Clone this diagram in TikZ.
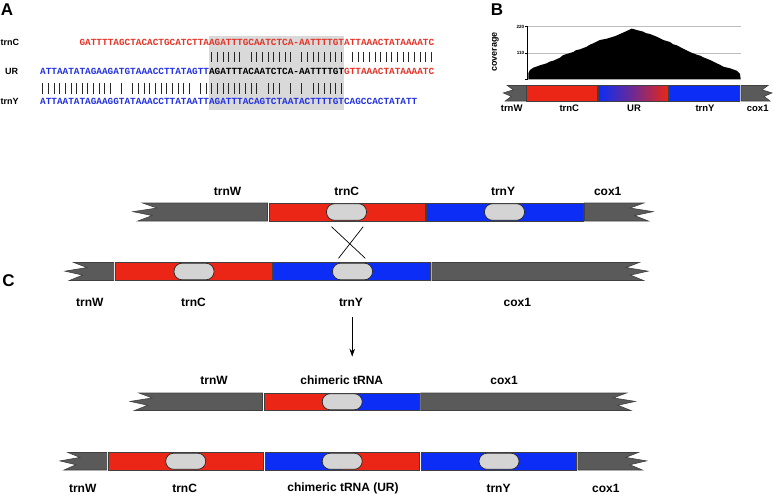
\documentclass[tikz,border=0pt]{standalone}
\usepackage{fontspec}
\setmainfont{Liberation Sans}
\newfontfamily\seqfont{Liberation Mono}
\usetikzlibrary{arrows.meta}
\definecolor{segred}{RGB}{235,38,22}
\definecolor{segblue}{RGB}{12,45,245}
\definecolor{seggray}{RGB}{90,90,90}
\definecolor{ovalgray}{RGB}{212,212,212}
\definecolor{shadegray}{RGB}{217,217,217}
\definecolor{txtred}{RGB}{228,52,40}
\definecolor{txtblue}{RGB}{35,50,225}
\definecolor{gridgray}{RGB}{190,190,190}
\newcommand\myzigL[6]{% tip x, end x, top, h, depth, colour
  \draw[seg,fill=#6] ({#1+0.4*#5},#3) -- ({#1+#5},{#3+0.28*#4}) -- (#1,{#3+0.48*#4}) -- ({#1+0.8*#5},{#3+0.7*#4}) -- ({#1+0.2*#5},{#3+#4}) -- (#2,{#3+#4}) -- (#2,#3) -- cycle;}
\newcommand\myzigR[6]{% start x, tip x, top, h, depth, colour
  \draw[seg,fill=#6] (#1,#3) -- ({#2-0.4*#5},#3) -- ({#2-#5},{#3+0.28*#4}) -- (#2,{#3+0.48*#4}) -- ({#2-0.8*#5},{#3+0.7*#4}) -- ({#2-0.2*#5},{#3+#4}) -- (#1,{#3+#4}) -- cycle;}
\newcommand\mysegbox[5]{\draw[seg,fill=#5] (#1,#3) rectangle (#2,{#3+#4});}
\newcommand\myoval[3]{\draw[ovalst] ({#1-20},{#2+0.7}) rectangle ({#1+20},{#2+#3-0.7});}
\newcommand\mysplit[6]{% x0, xm, x1, top, h, left colour / right colour in #6 and fixed
  \fill[#6] (#1,#4) rectangle (#2,{#4+#5});}
\begin{document}
\begin{tikzpicture}[x=1pt,y=-1pt,
  lbl/.style={font=\bfseries\fontsize{12}{14}\selectfont, inner sep=0},
  lblB/.style={font=\bfseries\fontsize{9.5}{11}\selectfont, inner sep=0},
  seqlbl/.style={font=\bfseries\fontsize{9}{11}\selectfont, inner sep=0, anchor=west},
  panel/.style={font=\bfseries\fontsize{17}{20}\selectfont, inner sep=0},
  seq/.style={font=\seqfont\bfseries\fontsize{9.38}{11}\selectfont, inner sep=0, anchor=west},
  seg/.style={draw=black!75, line width=0.6pt},
  ovalst/.style={fill=ovalgray, draw=black!85, line width=0.7pt, rounded corners=8pt},
  matchbar/.style={line width=0.8pt, black!85},
  gridl/.style={gridgray, line width=0.6pt},
  thinl/.style={black, line width=0.7pt}]
\useasboundingbox (0,0) rectangle (774,495);

% ---------------- Panel A ----------------
\node[panel] (pA) at (7,9.5) {A};
\fill[shadegray] ({40+30*5.63},36) rectangle ({40+54*5.63},110);
\node[seqlbl] (lC) at (0.5,42) {trnC};
\node[seqlbl] (lUR) at (5,71) {UR};
\node[seqlbl] (lY) at (0.5,101) {trnY};
\node[seq, text=txtred] (seqC) at ({40+7*5.63},42) {GATTTTAGCTACACTGCATCTTAAGATTTGCAATCTCA-AATTTTGTATTAAACTATAAAATC};
\node[seq] (seqUR) at (40,71) {{\color{txtblue}ATTAATATAGAAGATGTAAACCTTATAGTT}{\color{black}AGATTTACAATCTCA-AATTTTGT}{\color{txtred}GTTAAACTATAAAATC}};
\node[seq, text=txtblue] (seqY) at (40,101) {ATTAATATAGAAGGTATAAACCTTATAATTAGATTTACAGTCTAATACTTTTGTCAGCCACTATATT};
\foreach \a/\b in {30/35,37/44,46/53,55/69}
  \foreach \i in {\a,...,\b}
    \draw[matchbar] ({40+(\i+0.5)*5.63},52) -- ++(0,10.5);
\foreach \a/\b in {0/12,14/14,16/26,28/38,40/42,44/44,46/46,48/53}
  \foreach \i in {\a,...,\b}
    \draw[matchbar] ({40+(\i+0.5)*5.63},83) -- ++(0,10.5);

% ---------------- Panel B ----------------
\node[panel] (pB) at (497,9.5) {B};
\draw[gridl] (527.5,26.7) -- (741,26.7);
\draw[gridl] (527.5,53.3) -- (741,53.3);
\fill[black] (528.3,79.3) -- (528.3,73.3) -- (530,70) -- (533.3,67.7) -- (536,66.8) -- (540,65.3) -- (546.7,63.3) -- (550,61.5) -- (553.3,60.7) -- (560,57.7) -- (563,55.2) -- (566.7,54) -- (573.3,52) -- (576,50.2) -- (580,49.3) -- (586.7,46.7) -- (590,44.6) -- (593.3,43.3) -- (600,40) -- (606.7,38.7) -- (613.3,36.7) -- (616,35.8) -- (620,34) -- (626.7,31) -- (631.7,28.6) -- (636.7,30) -- (643.3,31.7) -- (646,33.2) -- (650,34) -- (656.7,36.7) -- (663.3,40) -- (670,42) -- (673,44.2) -- (676.7,45.3) -- (683.3,48.7) -- (690,52) -- (696.7,54.7) -- (700,55.6) -- (703.3,57.3) -- (710,60) -- (716.7,63.3) -- (720,64.8) -- (723.3,66.7) -- (730,68.3) -- (736.7,70.7) -- (740,74) -- (740.7,79.3) -- cycle;
\draw[black, line width=0.9pt] (527.5,26.7) -- (527.5,79.3);
\draw[black, line width=0.6pt] (525,26.7) -- (527.5,26.7) (525,53.3) -- (527.5,53.3) (525,79.3) -- (527.5,79.3);
\node[font=\bfseries\fontsize{4.6}{5}\selectfont, inner sep=0, anchor=east] (t220) at (524.5,26.7) {220};
\node[font=\bfseries\fontsize{4.6}{5}\selectfont, inner sep=0, anchor=east] (t110) at (524.5,53.3) {110};
\node[font=\bfseries\fontsize{9}{10}\selectfont, inner sep=0, rotate=90] (cov) at (495.5,52) {coverage};

\myzigL{503.3}{525.7}{85.5}{15.5}{10}{seggray}
\mysegbox{526.7}{597.7}{85.5}{15.5}{segred}
\shade[left color=segblue, right color=segred, middle color=segblue!55!segred] (598.3,85.5) rectangle (668.3,101);
\draw[seg] (598.3,85.5) rectangle (668.3,101);
\mysegbox{669.3}{739.3}{85.5}{15.5}{segblue}
\myzigR{741}{772}{85.5}{15.5}{10}{seggray}
\node[lblB] (bW) at (511.7,108.5) {trnW};
\node[lblB] (bC) at (569.3,108.5) {trnC};
\node[lblB] (bUR) at (634,108.5) {UR};
\node[lblB] (bY) at (705,108.5) {trnY};
\node[lblB] (bX) at (757.7,108.5) {cox1};

% ---------------- Panel C ----------------
\node[panel] (pC) at (8.5,281) {C};
% row 1
\node[lbl] (r1W) at (227.6,191) {trnW};
\node[lbl] (r1C) at (346.8,191) {trnC};
\node[lbl] (r1Y) at (503,191) {trnY};
\node[lbl] (r1X) at (607.7,191) {cox1};
\myzigL{133}{267.5}{203}{18}{24}{seggray}
\mysegbox{269}{425}{203}{18}{segred}
\myoval{346.5}{203}{18}
\mysegbox{426.5}{583}{203}{18}{segblue}
\myoval{504.5}{203}{18}
\myzigR{584.5}{653}{203}{18}{23}{seggray}
% crossing
\coordinate (xa1) at (331.5,226.7); \coordinate (xa2) at (365.3,258.3);
\coordinate (xb1) at (363.2,226.7); \coordinate (xb2) at (338.5,258.3);
\draw[thinl] (xa1) -- (xa2);
\draw[thinl] (xb1) -- (xb2);
% row 2
\myzigL{65}{113.7}{262.5}{18}{22}{seggray}
\mysegbox{115.3}{272}{262.5}{18}{segred}
\myoval{194}{262.5}{18}
\mysegbox{273.6}{430.2}{262.5}{18}{segblue}
\myoval{352.5}{262.5}{18}
\myzigR{431.8}{648}{262.5}{18}{22}{seggray}
\node[lbl] (r2W) at (89.9,302.7) {trnW};
\node[lbl] (r2C) at (193.5,302.7) {trnC};
\node[lbl] (r2Y) at (351,302.7) {trnY};
\node[lbl] (r2X) at (517.3,302.7) {cox1};
% arrow
\coordinate (arS) at (352.2,316.7);
\coordinate (arE) at (352.2,356.7);
\draw[black, line width=0.8pt, -{Stealth[length=8pt,width=5.5pt]}] (arS) -- (arE);
% row 3
\node[lbl] (r3W) at (214,380) {trnW};
\node[lbl] (r3M) at (341.8,380) {chimeric tRNA};
\node[lbl] (r3X) at (504,380) {cox1};
\myzigL{130.2}{262.5}{393}{17.5}{22}{seggray}
\fill[segred] (263.9,393) rectangle (342.2,410.5);
\fill[segblue] (342.2,393) rectangle (418.8,410.5);
\draw[seg] (263.9,393) rectangle (418.8,410.5);
\myoval{342.2}{393}{17.5}
\myzigR{420.6}{635.3}{393}{17.5}{22}{seggray}
% row 4
\myzigL{60}{106.7}{452.5}{17.5}{20}{seggray}
\mysegbox{108}{263}{452.5}{17.5}{segred}
\myoval{185.7}{452.5}{17.5}
\fill[segblue] (264.8,452.5) rectangle (342.2,470);
\fill[segred] (342.2,452.5) rectangle (418.8,470);
\draw[seg] (264.8,452.5) rectangle (418.8,470);
\myoval{342.2}{452.5}{17.5}
\mysegbox{421}{576.4}{452.5}{17.5}{segblue}
\myoval{499}{452.5}{17.5}
\myzigR{577.8}{646.6}{452.5}{17.5}{21}{seggray}
\node[lbl] (r4W) at (82.7,488.3) {trnW};
\node[lbl] (r4C) at (184.6,488.3) {trnC};
\node[lbl] (r4M) at (343,488.3) {chimeric tRNA (UR)};
\node[lbl] (r4Y) at (498.5,488.3) {trnY};
\node[lbl] (r4X) at (605.9,488.3) {cox1};
\end{tikzpicture}
\end{document}
